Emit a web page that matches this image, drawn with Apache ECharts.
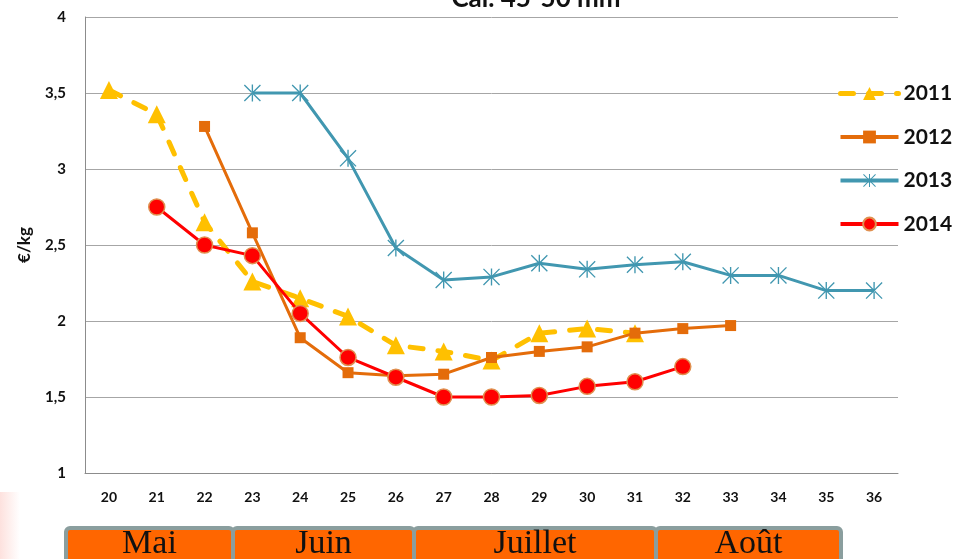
<!DOCTYPE html>
<html>
<head>
<meta charset="utf-8">
<script src="https://cdn.jsdelivr.net/npm/echarts@6/dist/echarts.min.js"></script>
<style>
  html, body { margin: 0; padding: 0; background: #ffffff; }
  #chart { width: 955px; height: 559px; }
</style>
</head>
<body>
<div id="chart"></div>
<script>
// weeks on the x axis
const weeks = ['20', '21', '22', '23', '24', '25', '26', '27', '28', '29', '30', '31', '32', '33', '34', '35', '36']

// prices in €/kg, null where there is no point
const price2011 = [3.52, 3.36, 2.65, 2.26, 2.15, 2.03, 1.84, 1.80, 1.74, 1.92, 1.95, 1.92, null, null, null, null, null]
const price2012 = [null, null, 3.28, 2.58, 1.89, 1.66, 1.64, 1.65, 1.76, 1.80, 1.83, 1.92, 1.95, 1.97, null, null, null]
const price2013 = [null, null, null, 3.50, 3.50, 3.07, 2.48, 2.27, 2.29, 2.38, 2.34, 2.37, 2.39, 2.30, 2.30, 2.20, 2.20]
const price2014 = [null, 2.75, 2.50, 2.43, 2.05, 1.76, 1.63, 1.50, 1.50, 1.51, 1.57, 1.60, 1.70, null, null, null, null]

const yTicks = [1, 1.5, 2, 2.5, 3, 3.5, 4]

// month band under the axis
const months = ['Mai', 'Juin', 'Juillet', 'Août']
const monthEdges = [66, 233, 414, 656, 841]

const labelFont = 'Lato, "Open Sans", sans-serif'

// asterisk marker for 2013
const starPath = 'path://M9.2 0 L10.8 0 L10.8 20 L9.2 20 Z M1.1 0 L0 1.1 L18.9 20 L20 18.9 Z M18.9 0 L20 1.1 L1.1 20 L0 18.9 Z'

const monthGraphics = []
months.forEach((name, i) => {
  const x0 = monthEdges[i]
  const x1 = monthEdges[i + 1]
  monthGraphics.push({
    type: 'rect',
    shape: { x: x0, y: 528, width: x1 - x0, height: 40, r: 4 },
    style: { fill: '#ff6600', stroke: '#8a9e9e', lineWidth: 4 },
    z: 10
  })
  monthGraphics.push({
    type: 'text',
    x: (x0 + x1) / 2,
    y: 544,
    style: {
      text: name,
      font: '34px "Liberation Serif", "DejaVu Serif", serif',
      fill: '#111111',
      align: 'center',
      verticalAlign: 'middle'
    },
    z: 11
  })
})

const chart = echarts.init(document.getElementById('chart'))

chart.setOption({
  animation: false,
  backgroundColor: '#ffffff',
  title: {
    text: 'Cal. 45-50 mm',
    left: 531,
    textAlign: 'center',
    top: -19,
    textStyle: {
      fontFamily: labelFont,
      fontSize: 26,
      fontWeight: 'bold',
      color: '#111111'
    }
  },
  legend: {
    orient: 'vertical',
    left: 833,
    top: 78,
    itemWidth: 58,
    itemHeight: 16,
    itemGap: 22.5,
    textStyle: {
      fontFamily: labelFont,
      fontSize: 21,
      fontWeight: 'bold',
      color: '#111111',
      lineHeight: 20
    },
    data: [
      { name: '2011', lineStyle: { width: 5 } },
      { name: '2012', lineStyle: { width: 4 } },
      { name: '2013', lineStyle: { width: 4 } },
      { name: '2014', lineStyle: { width: 4 } }
    ]
  },
  grid: {
    left: 85,
    right: 57,
    top: 17,
    bottom: 86
  },
  xAxis: {
    type: 'category',
    data: weeks,
    boundaryGap: true,
    axisTick: { show: false },
    axisLine: { lineStyle: { color: '#8c8c8c', width: 1 } },
    axisLabel: {
      margin: 17,
      fontFamily: labelFont,
      fontSize: 14,
      fontWeight: 'bold',
      color: '#111111',
      interval: 0
    }
  },
  yAxis: {
    type: 'value',
    min: yTicks[0],
    max: yTicks[yTicks.length - 1],
    interval: 0.5,
    name: '€/kg',
    nameLocation: 'middle',
    nameRotate: 90,
    nameGap: 52,
    nameTextStyle: {
      fontFamily: labelFont,
      fontSize: 17,
      fontWeight: 'bold',
      color: '#111111'
    },
    axisLine: { show: true, lineStyle: { color: '#8c8c8c', width: 1 } },
    axisTick: { show: false },
    splitLine: { lineStyle: { color: '#a6a6a6', width: 1 } },
    axisLabel: {
      margin: 19,
      fontFamily: labelFont,
      fontSize: 15,
      fontWeight: 'bold',
      color: '#111111',
      formatter: v => String(v).replace('.', ',')
    }
  },
  series: [
    {
      name: '2011',
      type: 'line',
      data: price2011,
      symbol: 'triangle',
      symbolSize: 18,
      itemStyle: { color: '#ffc000' },
      lineStyle: { color: '#ffc000', width: 5, type: [13, 15], cap: 'round' },
      z: 2
    },
    {
      name: '2012',
      type: 'line',
      data: price2012,
      symbol: 'rect',
      symbolSize: 11,
      itemStyle: { color: '#e46c0a' },
      lineStyle: { color: '#e46c0a', width: 3 },
      z: 3
    },
    {
      name: '2013',
      type: 'line',
      data: price2013,
      symbol: starPath,
      symbolSize: 17,
      itemStyle: { color: '#4197b0' },
      lineStyle: { color: '#4197b0', width: 3 },
      z: 4
    },
    {
      name: '2014',
      type: 'line',
      data: price2014,
      symbol: 'circle',
      symbolSize: 16,
      itemStyle: { color: '#ff0000', borderColor: '#e09050', borderWidth: 1.5 },
      lineStyle: { color: '#ff0000', width: 3 },
      z: 5
    }
  ],
  graphic: [
    {
      type: 'rect',
      shape: { x: 0, y: 492, width: 20, height: 67 },
      style: {
        fill: new echarts.graphic.LinearGradient(0, 0, 1, 0, [
          { offset: 0, color: 'rgba(250, 170, 160, 0.35)' },
          { offset: 1, color: 'rgba(250, 170, 160, 0)' }
        ])
      },
      z: 1
    },
    ...monthGraphics
  ]
})
</script>
</body>
</html>
